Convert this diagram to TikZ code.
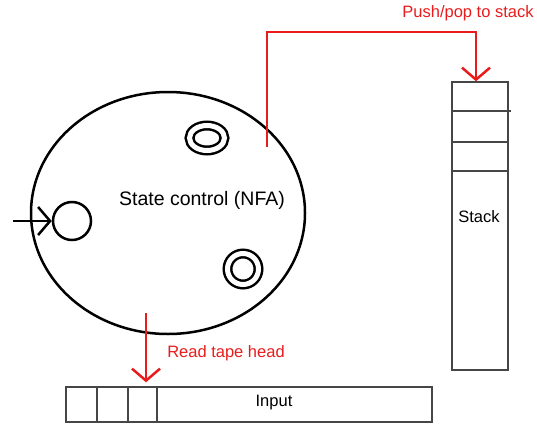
\documentclass[tikz,border=0pt]{standalone}
\usepackage{fontspec}
\setmainfont{Liberation Sans}
\usetikzlibrary{shapes.geometric,arrows.meta}
\definecolor{pen}{RGB}{232,28,28}
\definecolor{box}{RGB}{70,70,70}
\begin{document}
\begin{tikzpicture}[x=1pt,y=1pt,font=\fontsize{16.5}{19}\selectfont,
  barb/.style={-{Straight Barb[length=12pt,width=28pt]}},
  redline/.style={draw=pen,line width=2.5pt},
  cell/.style={draw=box,line width=1.4pt},
  state/.style={draw,line width=2.5pt,inner sep=0pt},
  final/.style={state,ellipse,double,double distance=5pt}]
\useasboundingbox (0,0) rectangle (537,424);
\node[draw,ellipse,line width=2.5pt,minimum width=274pt,minimum height=242pt] (ctrl) at (168,211) {};
\node[font=\fontsize{19.5}{22}\selectfont,inner sep=0pt] (ctrltxt) at (202,224) {State control (NFA)};
\node[state,circle,minimum size=38pt] (q0) at (72,203) {};
\node[final,minimum width=35pt,minimum height=25pt] (q1) at (207,286) {};
\node[final,minimum size=31pt] (q2) at (243,155) {};
\coordinate (start) at (13,203);
\draw[line width=2.5pt,barb] (start)--(q0.west);
% stack
\node[cell,rectangle,minimum width=56pt,minimum height=288pt] (stack) at (480,198) {};
\draw[cell] (452,313)--(511,313);
\foreach \y in {282,253} \draw[cell] (452,\y)--(508,\y);
\node[inner sep=0pt] (stacktxt) at (479,207) {Stack};
% tape
\node[cell,rectangle,minimum width=366pt,minimum height=35pt] (tape) at (249,19.5) {};
\foreach \x in {97,128,157} \draw[cell] (\x,2)--(\x,37);
\node[inner sep=0pt] (inp) at (274,21) {Input};
% push/pop
\coordinate (pp) at (267,277);
\coordinate (corner) at (476,392);
\draw[redline,barb] (pp) |- (corner) -- (corner |- stack.north);
\node[text=pen,inner sep=0pt] (pptxt) at (468,411) {Push/pop to stack};
% read head
\coordinate (rh) at (146,111);
\draw[redline,barb,shorten >=4pt] (rh)--(rh |- tape.north);
\node[text=pen,inner sep=0pt] (rhtxt) at (226,71) {Read tape head};
\end{tikzpicture}
\end{document}
